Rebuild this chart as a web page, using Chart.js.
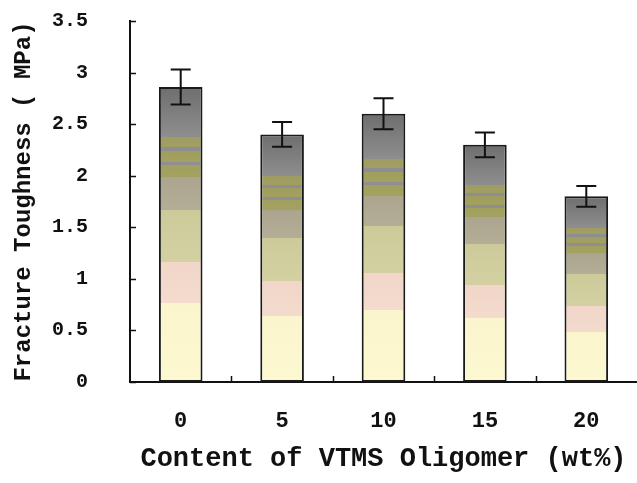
<!DOCTYPE html>
<html>
<head>
<meta charset="utf-8">
<script src="https://cdn.jsdelivr.net/npm/chart.js@4"></script>
<style>
html,body{margin:0;padding:0;background:#fff;}
#wrap{width:637px;height:483px;position:relative;}
</style>
</head>
<body>
<div id="wrap"><canvas id="c" width="637" height="483"></canvas></div>
<script>
const categories = ['0', '5', '10', '15', '20'];
const toughness = [2.86, 2.40, 2.60, 2.30, 1.80];
const errors = [0.17, 0.12, 0.15, 0.12, 0.10];
const yTickLabels = ['0', '0.5', '1', '1.5', '2', '2.5', '3', '3.5'];
const xTitle = 'Content of VTMS Oligomer (wt%)';
const yTitle = 'Fracture Toughness ( MPa)';

// gradient bands [fraction from base, color]
const bandStops = [
  [0.000, '#FCF8D0'], [0.268, '#FBF5CD'],
  [0.268, '#F3DBCE'], [0.407, '#F1D6C9'],
  [0.407, '#D3D1A2'], [0.582, '#CDCA9A'],
  [0.582, '#B4AE97'], [0.695, '#ABA58F'],
  [0.695, '#A4A261'], [0.735, '#A2A05E'],
  [0.735, '#8F8F93'], [0.746, '#8F8F93'],
  [0.746, '#A3A15F'], [0.783, '#A09E5E'],
  [0.783, '#8E8E92'], [0.797, '#8E8E92'],
  [0.797, '#A19F60'], [0.831, '#9E9C62'],
  [0.831, '#8E8E8E'], [1.000, '#6E6E6E']
];

function barFill(ctx) {
  const chart = ctx.chart;
  if (!chart.chartArea) return '#cccccc';
  const y = chart.scales.y;
  const v = ctx.raw;
  const base = y.getPixelForValue(0);
  const top = y.getPixelForValue(v);
  const g = chart.ctx.createLinearGradient(0, base, 0, top);
  bandStops.forEach(s => g.addColorStop(s[0], s[1]));
  return g;
}

const errorBarPlugin = {
  id: 'errorBars',
  afterDatasetsDraw(chart) {
    const c = chart.ctx;
    const meta = chart.getDatasetMeta(0);
    const y = chart.scales.y;
    c.save();
    c.strokeStyle = '#111';
    c.lineWidth = 2;
    meta.data.forEach((bar, i) => {
      const v = toughness[i], e = errors[i];
      const x = bar.x;
      const yt = y.getPixelForValue(v + e);
      const yb = y.getPixelForValue(v - e);
      const cap = 10;
      c.beginPath();
      c.moveTo(x, yt); c.lineTo(x, yb);
      c.moveTo(x - cap, yt); c.lineTo(x + cap, yt);
      c.moveTo(x - cap, yb); c.lineTo(x + cap, yb);
      c.stroke();
    });
    c.restore();
  }
};

const axisTicksPlugin = {
  id: 'inwardTicks',
  afterDraw(chart) {
    const c = chart.ctx;
    const ya = chart.scales.y, xa = chart.scales.x;
    const area = chart.chartArea;
    c.save();
    c.strokeStyle = '#111';
    c.lineWidth = 1.5;
    c.beginPath();
    ya.ticks.forEach(t => {
      const py = Math.round(ya.getPixelForValue(t.value)) + 0.5;
      c.moveTo(area.left, py); c.lineTo(area.left + 6, py);
    });
    for (let i = 1; i < categories.length; i++) {
      const px = Math.round((xa.getPixelForValue(i - 1) + xa.getPixelForValue(i)) / 2) + 0.5;
      c.moveTo(px, area.bottom); c.lineTo(px, area.bottom - 6);
    }
    c.stroke();
    c.restore();
  }
};

const monoFont = "'Liberation Mono', 'DejaVu Sans Mono', monospace";

new Chart(document.getElementById('c'), {
  type: 'bar',
  data: {
    labels: categories,
    datasets: [{
      data: toughness,
      backgroundColor: barFill,
      borderColor: '#1a1a1a',
      borderWidth: 2,
      borderSkipped: false,
      categoryPercentage: 1.0,
      barPercentage: 0.43
    }]
  },
  options: {
    responsive: false,
    animation: false,
    devicePixelRatio: 1,
    layout: { padding: { top: 21, right: 0, bottom: 0, left: 0 } },
    plugins: {
      legend: { display: false },
      tooltip: { enabled: false }
    },
    scales: {
      x: {
        afterFit(scale) { scale.height = 101; scale.paddingLeft = 0; scale.paddingRight = 0; },
        grid: { display: false, drawTicks: false },
        border: { display: true, color: '#111', width: 2 },
        ticks: { color: '#111', padding: 26, font: { family: monoFont, size: 22, weight: 'bold' } },
        title: {
          display: true, text: xTitle, color: '#111',
          font: { family: monoFont, size: 27, weight: 'bold' },
          padding: { top: 0, bottom: 8 }
        }
      },
      y: {
        min: 0, max: 3.5,
        afterFit(scale) { scale.width = 130; scale.paddingTop = 0; scale.paddingBottom = 0; },
        grid: { display: false, drawTicks: false },
        border: { display: true, color: '#111', width: 2 },
        ticks: {
          stepSize: 0.5, color: '#111', padding: 42,
          font: { family: monoFont, size: 20, weight: 'bold' },
          callback: (v, i) => yTickLabels[i]
        },
        title: {
          display: true, text: yTitle, color: '#111',
          font: { family: monoFont, size: 24, weight: 'bold' },
          padding: { top: 10, bottom: 0 }
        }
      }
    }
  },
  plugins: [errorBarPlugin, axisTicksPlugin]
});
</script>
</body>
</html>
